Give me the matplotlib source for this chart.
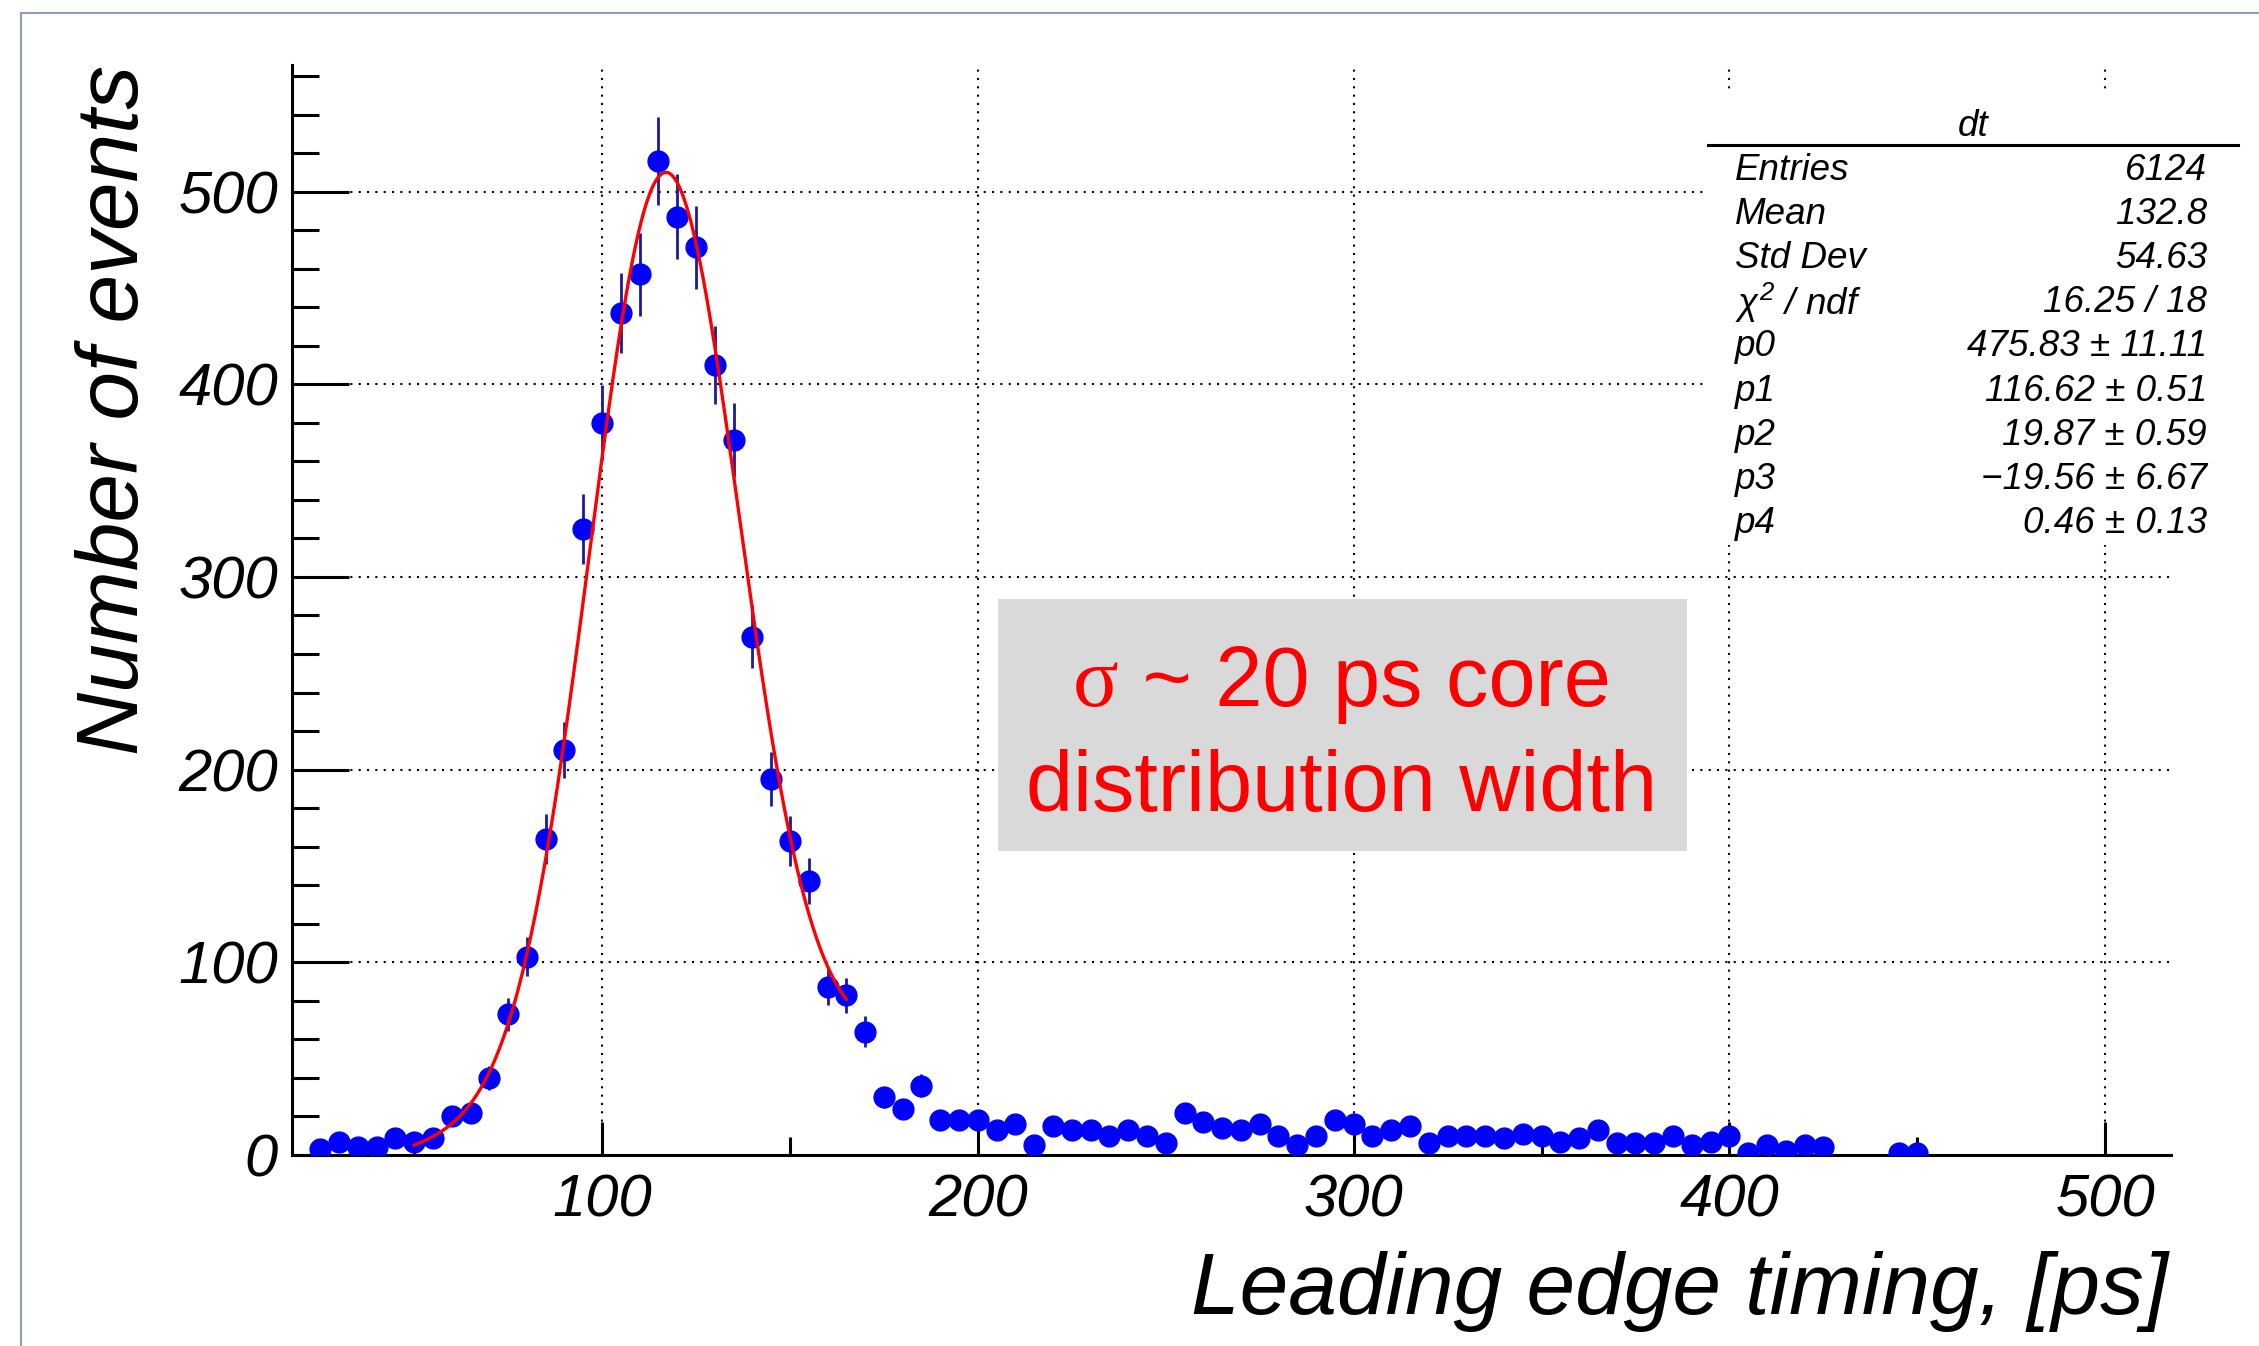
import numpy as np
import matplotlib
matplotlib.use("Agg")
import matplotlib.pyplot as plt
from matplotlib.ticker import MultipleLocator
from matplotlib.patches import Rectangle
from matplotlib.lines import Line2D

plt.rcParams['font.family'] = ['Liberation Sans', 'DejaVu Sans']
plt.rcParams['font.style'] = 'italic'
plt.rcParams['mathtext.fontset'] = 'custom'
plt.rcParams['mathtext.rm'] = 'Liberation Sans'
plt.rcParams['mathtext.it'] = 'Liberation Sans:italic'

# ---- histogram "dt": bin centres [ps] and counts (bin width 5 ps) ----
bin_centers = [25, 30, 35, 40, 45, 50, 55, 60, 65, 70, 75, 80, 85, 90, 95,
               100, 105, 110, 115, 120, 125, 130, 135, 140, 145, 150, 155,
               160, 165, 170, 175, 180, 185, 190, 195, 200, 205, 210, 215,
               220, 225, 230, 235, 240, 245, 250, 255, 260, 265, 270, 275,
               280, 285, 290, 295, 300, 305, 310, 315, 320, 325, 330, 335,
               340, 345, 350, 355, 360, 365, 370, 375, 380, 385, 390, 395,
               400, 405, 410, 415, 420, 425, 445, 450]
counts = [3, 7, 4, 4, 9, 7, 9, 20, 22, 40, 73, 103, 164, 210, 325,
          380, 437, 457, 516, 487, 471, 410, 371, 269, 195, 163, 142,
          87, 83, 64, 30, 24, 36, 18, 18, 18, 13, 16, 5,
          15, 13, 13, 10, 13, 10, 6, 22, 17, 14, 13, 16,
          10, 5, 10, 18, 16, 10, 13, 15, 6, 10, 10, 10,
          9, 11, 10, 7, 9, 13, 6, 6, 6, 10, 5, 7,
          10, 1, 5, 2, 5, 4, 1, 1]

# ---- fit: gaus(p0,p1,p2) + pol1(p3,p4) ----
fit_params = [475.83, 116.62, 19.87, -19.56, 0.46]
fit_range = [50, 165]

# ---- statistics panel ----
stats_title = "dt"
stats_labels = ["Entries", "Mean", "Std Dev", r"$\chi^2$ / ndf",
                "p0", "p1", "p2", "p3", "p4"]
stats_values = ["6124", "132.8", "54.63", "16.25 / 18",
                "475.83 \u00b1 11.11", "116.62 \u00b1 0.51",
                "19.87 \u00b1 0.59", "\u221219.56 \u00b1 6.67",
                "0.46 \u00b1 0.13"]

x_tick_labels = ["100", "200", "300", "400", "500"]
y_tick_labels = ["0", "100", "200", "300", "400", "500"]

W, H = 2259, 1346
fig = plt.figure(figsize=(W / 100, H / 100), dpi=100)


def fx(px):
    return px / W


def fy(py):
    return 1 - py / H


ax = fig.add_axes([fx(292), fy(1155), (2171 - 292) / W, (1155 - 65) / H])

x = np.array(bin_centers, dtype=float)
y = np.array(counts, dtype=float)

ax.errorbar(x, y, yerr=np.sqrt(y), fmt='none', ecolor='#1a1a9a',
            elinewidth=2.0, zorder=3)
ax.plot(x, y, 'o', color='#0000ff', ms=15, mec='#0000ff', zorder=4)

p0, p1, p2, p3, p4 = fit_params
xf = np.linspace(fit_range[0], fit_range[1], 300)
yf = p0 * np.exp(-0.5 * ((xf - p1) / p2) ** 2) + p3 + p4 * xf
ax.plot(xf, yf, color='#ff0000', lw=2.4, zorder=5)

ax.set_xlim(17.5, 517.5)
ax.set_ylim(0, 565.7)

ax.xaxis.set_minor_locator(MultipleLocator(50))
ax.yaxis.set_minor_locator(MultipleLocator(20))
ax.set_xticks([100, 200, 300, 400, 500])
ax.set_xticklabels(x_tick_labels)
ax.set_yticks([0, 100, 200, 300, 400, 500])
ax.set_yticklabels(y_tick_labels)

ax.grid(True, which='major', color='black', linestyle=(0, (1, 3)),
        linewidth=1.5, zorder=1)
ax.set_axisbelow(True)

for side in ('top', 'right'):
    ax.spines[side].set_visible(False)
for side in ('left', 'bottom'):
    ax.spines[side].set_linewidth(2.2)

ax.tick_params(axis='y', which='major', direction='in', length=41,
               width=2.2, pad=10, labelsize=43)
ax.tick_params(axis='y', which='minor', direction='in', length=19.5,
               width=2.2)
ax.tick_params(axis='x', which='major', direction='in', length=24,
               width=2.2, pad=13, labelsize=43)
ax.tick_params(axis='x', which='minor', direction='in', length=13,
               width=2.2)

# axis titles
fig.text(fx(2168), fy(1314), "Leading edge timing, [ps]", fontsize=63,
         ha='right', va='baseline')
fig.text(fx(116), fy(65), "Number of events", fontsize=63, rotation=90,
         ha='center', va='top')

# statistics panel
fig.add_artist(Rectangle((fx(1703), fy(545)), (2240 - 1703) / W,
                         (545 - 92) / H, transform=fig.transFigure,
                         facecolor='white', edgecolor='none', zorder=3))
fig.add_artist(Line2D([fx(1708), fx(2238)], [fy(145), fy(145)],
                      color='black', lw=2.2, zorder=4))
fig.text(fx(1973), fy(127), stats_title, fontsize=26.5, ha='center',
         va='center', zorder=5)
for i, (lab, val) in enumerate(zip(stats_labels, stats_values)):
    ry = 170 + i * 44.2
    fig.text(fx(1735), fy(ry), lab, fontsize=26.5, ha='left', va='center',
             zorder=5)
    fig.text(fx(2207), fy(ry), val, fontsize=26.5, ha='right', va='center',
             zorder=5)

# annotation box
fig.add_artist(Rectangle((fx(998), fy(851)), (1687 - 998) / W,
                         (851 - 599) / H, transform=fig.transFigure,
                         facecolor='#d9d9d9', edgecolor='none', zorder=3))
cx = 1342
t_sig = fig.text(fx(cx), fy(706), "\u03c3", fontsize=61, color='#ff0000',
                 family=['Liberation Serif', 'DejaVu Serif'],
                 style='normal', ha='right', va='baseline', zorder=5)
t_rest = fig.text(fx(cx), fy(706), " ~ 20 ps core", fontsize=61,
                  color='#ff0000', style='normal', ha='left',
                  va='baseline', zorder=5)
fig.text(fx(cx), fy(811), "distribution width", fontsize=61,
         color='#ff0000', style='normal', ha='center', va='baseline',
         zorder=5)

fig.canvas.draw()
r = fig.canvas.get_renderer()
w_sig = t_sig.get_window_extent(r).width
w_rest = t_rest.get_window_extent(r).width
split = cx - (w_sig + w_rest) / 2 + w_sig
t_sig.set_x(fx(split))
t_rest.set_x(fx(split))

# slide frame
fig.add_artist(Line2D([fx(21), 1], [fy(13), fy(13)], color='#8da0bb',
                      lw=1.5, zorder=6))
fig.add_artist(Line2D([fx(21), fx(21)], [0, fy(13)], color='#8da0bb',
                      lw=1.5, zorder=6))

fig.savefig("out.png", dpi=100)
